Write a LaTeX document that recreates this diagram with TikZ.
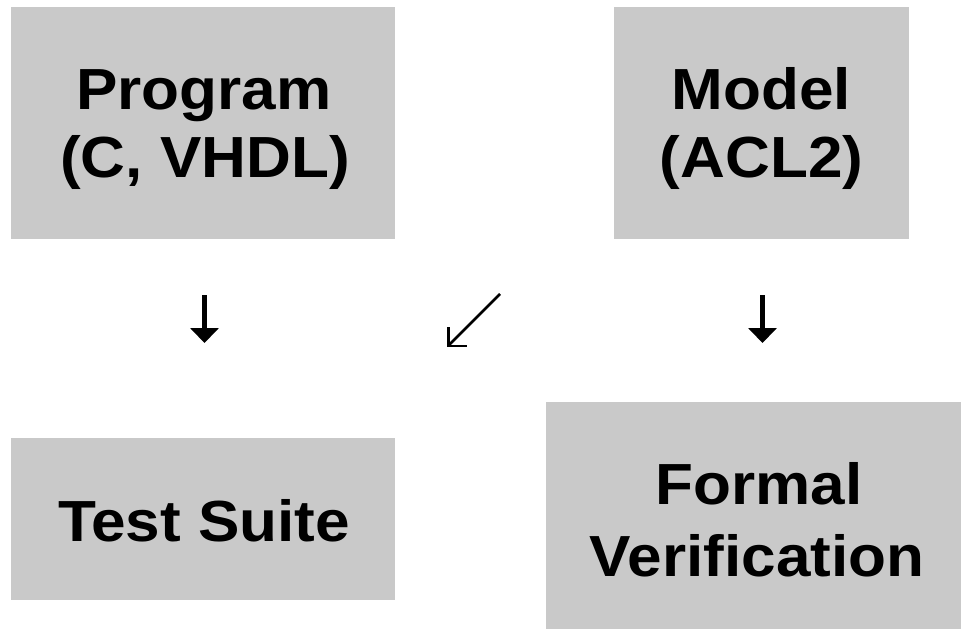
\documentclass[tikz,border=0pt]{standalone}
\usepackage{fontspec}
\setmainfont{Liberation Sans}
\newfontfamily\boxfont{Liberation Sans}[FakeStretch=1.07]
\usetikzlibrary{arrows.meta}
\definecolor{boxgray}{RGB}{201,201,201}
\tikzset{
  graybox/.style={fill=boxgray, draw=none, rectangle, inner sep=0pt},
  boxtext/.style={anchor=base, inner sep=0pt, font={\boxfont\fontsize{58}{68}\selectfont\bfseries}},
  thickarrow/.style={line width=5.5pt, -{Triangle[width=28pt,length=15pt]}},
  thinarrow/.style={line width=2.5pt, -{Straight Barb[length=13pt,width=26pt,line width=2.5pt]}}
}
\begin{document}
\begin{tikzpicture}[x=1pt,y=-1pt]
\useasboundingbox (0,0) rectangle (961,629);
\node[graybox, minimum width=384pt, minimum height=232pt] (prog) at (203,123) {};
\node[graybox, minimum width=295pt, minimum height=232pt] (model) at (761.5,123) {};
\node[graybox, minimum width=384pt, minimum height=162pt] (test) at (203,519) {};
\node[graybox, minimum width=415pt, minimum height=227pt] (formal) at (753.5,515.5) {};
\node[boxtext] (progA) at (204,109) {Program};
\node[boxtext] (progB) at (205,177) {(C, VHDL)};
\node[boxtext] (modelA) at (761.5,109) {Model};
\node[boxtext] (modelB) at (761.5,177) {(ACL2)};
\node[boxtext] (testA) at (204,541) {Test Suite};
\node[boxtext] (formalA) at (759,504) {Formal};
\node[boxtext] (formalB) at (757,576) {Verification};
\coordinate (a1s) at (204.5,295);
\coordinate (a1e) at (204.5,343);
\coordinate (a2s) at (500,294);
\coordinate (a2e) at (447,347);
\coordinate (a3s) at (762.5,295);
\coordinate (a3e) at (762.5,343);
\draw[thickarrow] (a1s) -- (a1e);
\draw[thinarrow] (a2s) -- (a2e);
\draw[thickarrow] (a3s) -- (a3e);
\end{tikzpicture}
\end{document}
